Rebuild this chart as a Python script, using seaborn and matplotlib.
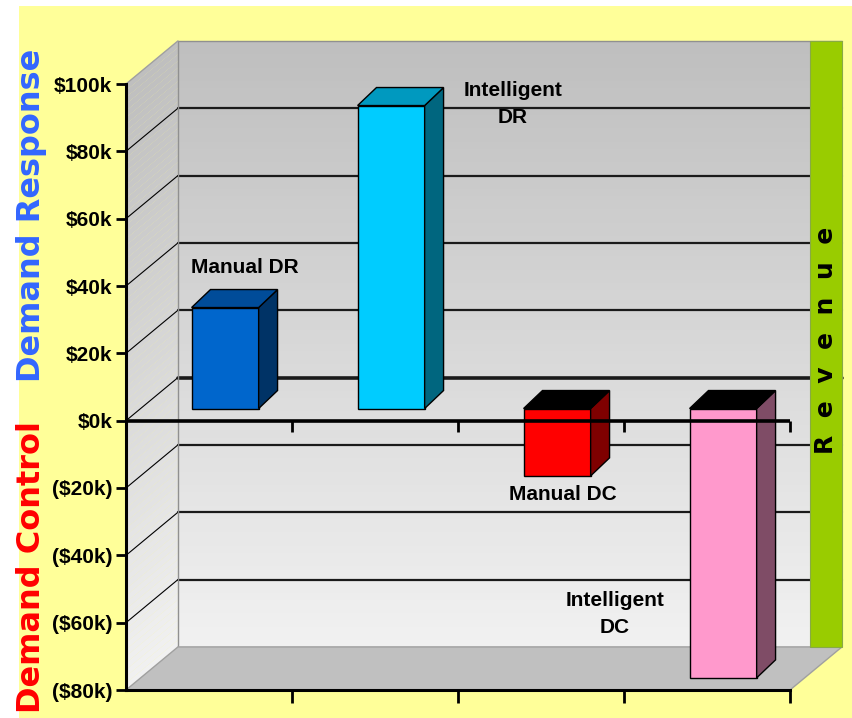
import numpy as np
import pandas as pd
import matplotlib
matplotlib.use("Agg")
import matplotlib.pyplot as plt
from matplotlib.patches import Rectangle, Polygon
import seaborn as sns

# data (values in $k)
categories = ["Manual DR", "Intelligent DR", "Manual DC", "Intelligent DC"]
values_k = [30, 90, -20, -80]
bar_labels = ["Manual DR", "Intelligent\nDR", "Manual DC", "Intelligent\nDC"]
y_ticks = [-80, -60, -40, -20, 0, 20, 40, 60, 80, 100]

front_colors = ["#0066cc", "#00ccff", "#ff0000", "#ff99cc"]
top_colors = ["#004c99", "#0099bf", "#000000", "#000000"]
side_colors = ["#003366", "#00667f", "#7f0000", "#7f4c66"]

# layout (data units: x = category slots, y = $k)
WALL_DX, WALL_DY = 0.313, 12.8      # depth of the back wall
BAR_DX, BAR_DY = 0.114, 5.35        # depth of each bar
BAR_SHIFT_X, BAR_SHIFT_Y = 0.097, 3.6
GREEN_W = 0.193
label_pos = [(0.217, 45.4), (1.831, 94.0), (2.133, -22.0), (2.446, -57.5)]

narrow = ["Liberation Sans Narrow", "Liberation Sans", "DejaVu Sans"]

sns.set_style("ticks")

fig = plt.figure(figsize=(8.52, 7.18), dpi=100, facecolor="white")
fig.add_artist(Rectangle((19 / 852, 0), 1 - 19 / 852, 712 / 718,
                         transform=fig.transFigure, facecolor="#ffff99",
                         edgecolor="none", zorder=-10))

ax = fig.add_axes([126 / 852, 28 / 718, 664 / 852, 606 / 718])
ax.patch.set_visible(False)

df = pd.DataFrame({"cat": categories, "val": values_k})
sns.barplot(data=df, x="cat", y="val", hue="cat", palette=front_colors,
            legend=False, width=0.404, saturation=1, edgecolor="black",
            linewidth=1, ax=ax)
bars = list(ax.patches)

ax.set_xlim(-0.5, 3.5)
ax.set_ylim(-80, 100)

# back wall gradient + left side wall gradient
x0w, x1w = -0.5 + WALL_DX, 3.5 + WALL_DX
steps = np.linspace(-80, 100, 91)
for lo, hi in zip(steps[:-1], steps[1:]):
    g = 0.945 - (lo + 80) / 180 * 0.2
    c = (g, g, g)
    ax.add_patch(Rectangle((x0w, lo + WALL_DY), x1w - x0w, hi - lo + 0.05,
                           facecolor=c, edgecolor="none", zorder=0.1, clip_on=False))
    ax.add_patch(Polygon([(-0.5, lo), (x0w, lo + WALL_DY), (x0w, hi + WALL_DY + 0.05),
                          (-0.5, hi + 0.05)], closed=True, facecolor=c,
                         edgecolor="none", zorder=0.1, clip_on=False))

# floor
ax.add_patch(Polygon([(-0.5, -80), (3.5, -80), (x1w, -80 + WALL_DY), (x0w, -80 + WALL_DY)],
                     closed=True, facecolor="#c0c0c0", edgecolor="#a0a0a0",
                     lw=1, zorder=0.4, clip_on=False))

# wall outlines
ax.plot([x0w, x0w, x1w], [-80 + WALL_DY, 100 + WALL_DY, 100 + WALL_DY],
        color="#909090", lw=1, zorder=0.35, clip_on=False)
ax.plot([-0.5, x0w], [100, 100 + WALL_DY], color="#a0a0a0", lw=1,
        zorder=0.35, clip_on=False)

# gridlines on back wall and diagonals on side wall
for v in y_ticks[1:-1]:
    ax.plot([x0w, x1w], [v + WALL_DY] * 2, color="#1a1a1a",
            lw=2.6 if v == 0 else 1.6, zorder=0.3, clip_on=False)
    ax.plot([-0.5, x0w], [v, v + WALL_DY], color="black", lw=0.8,
            zorder=0.3, clip_on=False)

# green revenue strip
ax.add_patch(Rectangle((x1w - GREEN_W, -80 + WALL_DY), GREEN_W, 180,
                       facecolor="#99cc00", edgecolor="#88aa44", lw=0.8,
                       zorder=0.5, clip_on=False))
ax.text(x1w - GREEN_W / 2, 23.8, "R  e  v  e  n  u  e", rotation=90,
        ha="center", va="center", fontsize=18, fontweight="bold",
        family="DejaVu Sans", color="black", zorder=0.6)

# 3D bars: shift front faces and add side/top faces
for i, p in enumerate(bars):
    p.set_x(p.get_x() + BAR_SHIFT_X)
    p.set_y(p.get_y() + BAR_SHIFT_Y)
    p.set_zorder(2)
    bx0 = p.get_x()
    bx1 = bx0 + p.get_width()
    ylo = min(p.get_y(), p.get_y() + p.get_height())
    yhi = max(p.get_y(), p.get_y() + p.get_height())
    ax.add_patch(Polygon([(bx1, ylo), (bx1 + BAR_DX, ylo + BAR_DY),
                          (bx1 + BAR_DX, yhi + BAR_DY), (bx1, yhi)], closed=True,
                         facecolor=side_colors[i], edgecolor="black", lw=1,
                         zorder=2, clip_on=False))
    ax.add_patch(Polygon([(bx0, yhi), (bx0 + BAR_DX, yhi + BAR_DY),
                          (bx1 + BAR_DX, yhi + BAR_DY), (bx1, yhi)], closed=True,
                         facecolor=top_colors[i], edgecolor="black", lw=1,
                         zorder=2, clip_on=False))

# front zero line with ticks
ax.plot([-0.5, 3.5], [0, 0], color="black", lw=2.6, zorder=3,
        solid_capstyle="butt", clip_on=False)
ax.plot([0.5, 1.5, 2.5, 3.5], [0] * 4, ls="none", marker=3, ms=8, mew=2,
        color="black", zorder=3, clip_on=False)

# labels
for (lx, ly), txt in zip(label_pos, bar_labels):
    ax.text(lx, ly, txt, ha="center", va="center", multialignment="center",
            linespacing=1.5, fontsize=15, fontweight="bold", family=narrow,
            color="black", zorder=4)

# axes styling
ax.set_xticks([0.5, 1.5, 2.5, 3.5], labels=[])
ax.set_yticks(y_ticks)
ax.yaxis.set_major_formatter(
    plt.FuncFormatter(lambda v, p: f"${v:.0f}k" if v >= 0 else f"(${-v:.0f}k)"))
ax.set_xlabel("")
ax.set_ylabel("")
for lab in ax.get_yticklabels():
    lab.set_fontfamily(narrow)
    lab.set_fontsize(15)
    lab.set_fontweight("bold")
ax.tick_params(axis="y", direction="out", length=7, width=2, pad=3, colors="black")
ax.tick_params(axis="x", direction="out", length=9, width=2, colors="black")
for s in ["top", "right"]:
    ax.spines[s].set_visible(False)
for s in ["left", "bottom"]:
    ax.spines[s].set_linewidth(2.2)
    ax.spines[s].set_color("black")
    ax.spines[s].set_zorder(3)

fig.text(32 / 852, 1 - 215 / 718, "Demand Response", rotation=90, ha="center",
         va="center", fontsize=23, fontweight="bold", family="DejaVu Sans",
         color="#3366ff")
fig.text(32 / 852, 1 - 567 / 718, "Demand Control", rotation=90, ha="center",
         va="center", fontsize=23, fontweight="bold", family="DejaVu Sans",
         color="#ff0000")

fig.savefig("out.png", dpi=100, facecolor="white")
